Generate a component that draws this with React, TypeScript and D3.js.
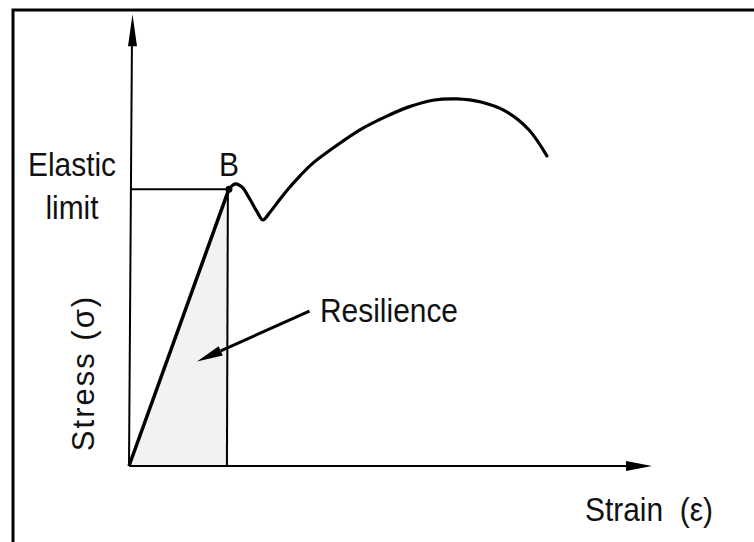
import React from "react";
import * as d3 from "d3";

// Stress–strain diagram (arbitrary units: strain 0–10, stress 0–10)
const elasticLimit: [number, number] = [1.91, 6.22]; // point B
const plasticCurve: [number, number][] = [
  [1.91, 6.22],
  [2.03, 6.34],
  [2.16, 6.27],
  [2.31, 6.0],
  [2.45, 5.71],
  [2.56, 5.53],
  [2.7, 5.71],
  [2.89, 6.0],
  [3.04, 6.22],
  [3.27, 6.52],
  [3.5, 6.79],
  [3.98, 7.21],
  [4.44, 7.57],
  [4.89, 7.84],
  [5.35, 8.07],
  [5.81, 8.22],
  [6.27, 8.25],
  [6.73, 8.18],
  [7.19, 7.98],
  [7.65, 7.55],
  [7.99, 6.97],
];
const resilienceArrow: [number, number][] = [
  [3.45, 3.48],
  [1.3, 2.35],
];
const labels = {
  yAxis: "Stress (σ)",
  xAxis: "Strain (ε)",
  limit: ["Elastic", "limit"],
  point: "B",
  area: "Resilience",
};

const W = 754;
const H = 542;
const FONT = "'Liberation Sans', Arial, sans-serif";

// condensed label: a regular sans narrowed horizontally
function Label({
  x,
  y,
  children,
  anchor = "start",
}: {
  x: number;
  y: number;
  children: React.ReactNode;
  anchor?: "start" | "middle" | "end";
}) {
  return (
    <text transform={`translate(${x},${y}) scale(0.88,1)`} textAnchor={anchor}>
      {children}
    </text>
  );
}

export default function App() {
  const x = d3.scaleLinear().domain([0, 10]).range([129, 652]);
  const y = d3.scaleLinear().domain([0, 10]).range([466, 21]);

  const curve = d3
    .line<[number, number]>()
    .x((d) => x(d[0]))
    .y((d) => y(d[1]))
    .curve(d3.curveCatmullRom.alpha(0.5));

  const straight = d3
    .line<[number, number]>()
    .x((d) => x(d[0]))
    .y((d) => y(d[1]));

  const [bx, by] = elasticLimit;
  const resilienceArea: [number, number][] = [
    [0, 0],
    [bx, by],
    [bx, 0],
  ];

  // arrow head geometry for the "Resilience" pointer
  const [a0, a1] = resilienceArrow;
  const p0 = [x(a0[0]), y(a0[1])];
  const p1 = [x(a1[0]), y(a1[1])];
  const ang = Math.atan2(p1[1] - p0[1], p1[0] - p0[0]);
  const headLen = 26;
  const headW = 5;
  const baseX = p1[0] - headLen * Math.cos(ang);
  const baseY = p1[1] - headLen * Math.sin(ang);
  const head = [
    [p1[0], p1[1]],
    [baseX + headW * Math.sin(ang), baseY - headW * Math.cos(ang)],
    [baseX - headW * Math.sin(ang), baseY + headW * Math.cos(ang)],
  ];

  const x0 = x(0);
  const y0 = y(0);
  const yTop = y(10.15);
  const xEnd = x(10);

  return (
    <svg
      width={W}
      height={H}
      style={{ position: "absolute", left: 0, top: 0, background: "#fff" }}
      fontFamily={FONT}
    >
      {/* frame */}
      <path d={`M13,${H} V10 H${W}`} fill="none" stroke="#000" strokeWidth={3} />

      {/* resilience (shaded triangle under the elastic line) */}
      <path d={straight(resilienceArea) + "Z"} fill="#f2f2f2" stroke="none" />

      {/* axes */}
      <line x1={x0} y1={y0} x2={x0 + 3} y2={yTop + 20} stroke="#000" strokeWidth={2} />
      <path
        d={`M${x0 + 3.5},${yTop} L${x0 - 1},${yTop + 32} L${x0 + 8},${yTop + 32} Z`}
        fill="#000"
      />
      <line x1={x0} y1={y0} x2={xEnd - 20} y2={y0} stroke="#000" strokeWidth={2.2} />
      <path
        d={`M${xEnd},${y0} L${xEnd - 26},${y0 - 5} L${xEnd - 26},${y0 + 5} Z`}
        fill="#000"
      />

      {/* elastic limit guides */}
      <line x1={x0 + 2} y1={y(by)} x2={x(bx)} y2={y(by)} stroke="#000" strokeWidth={2} />
      <line x1={x(bx) - 1} y1={y(by)} x2={x(bx) - 2} y2={y0} stroke="#000" strokeWidth={2} />

      {/* elastic line O–B */}
      <path d={straight([[0, 0], elasticLimit]) ?? ""} fill="none" stroke="#000" strokeWidth={3.5} />

      {/* plastic region */}
      <path
        d={curve(plasticCurve) ?? ""}
        fill="none"
        stroke="#000"
        strokeWidth={3.2}
        strokeLinecap="round"
        strokeLinejoin="round"
      />
      <circle cx={x(bx)} cy={y(by)} r={3.5} fill="#000" />

      {/* resilience pointer */}
      <line x1={p0[0]} y1={p0[1]} x2={baseX} y2={baseY} stroke="#000" strokeWidth={3} />
      <path d={`M${head.map((p) => p.join(",")).join("L")}Z`} fill="#000" />

      {/* text */}
      <g fill="#111" fontSize={34}>
        <Label x={72} y={176} anchor="middle">{labels.limit[0]}</Label>
        <Label x={72} y={219} anchor="middle">{labels.limit[1]}</Label>
        <Label x={x(bx)} y={176} anchor="middle">{labels.point}</Label>
        <Label x={320} y={322}>{labels.area}</Label>
        <Label x={585} y={521}>{labels.xAxis.replace(" ", "\u00a0\u00a0")}</Label>
        <text
          transform="translate(94,373) rotate(-90)"
          textAnchor="middle"
          fontSize={31}
          letterSpacing={2}
        >
          {labels.yAxis}
        </text>
      </g>
    </svg>
  );
}
